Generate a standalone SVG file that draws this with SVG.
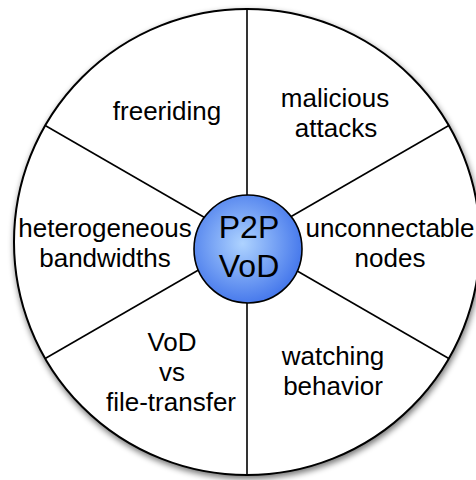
<svg xmlns="http://www.w3.org/2000/svg" width="476" height="480" viewBox="0 0 476 480">
  <defs>
    <filter id="shadow" x="-10%" y="-10%" width="120%" height="125%">
      <feGaussianBlur in="SourceAlpha" stdDeviation="3"/>
      <feOffset dx="1" dy="3" result="blur"/>
      <feComponentTransfer><feFuncA type="linear" slope="0.55"/></feComponentTransfer>
      <feMerge><feMergeNode/><feMergeNode in="SourceGraphic"/></feMerge>
    </filter>
    <radialGradient id="hub" cx="0.45" cy="0.45" r="0.6">
      <stop offset="0" stop-color="#aed3ff"/>
      <stop offset="1" stop-color="#3f72ea"/>
    </radialGradient>
  </defs>
  <style>
    .label { font-family: "Liberation Sans", Arial, Helvetica, sans-serif; font-size: 26px; fill: #000; text-anchor: middle; }
    .hub-label { font-family: "Liberation Sans", Arial, Helvetica, sans-serif; font-size: 32px; fill: #000; text-anchor: middle; }
    .spoke { stroke: #000; stroke-width: 1.6; }
  </style>

  <!-- outer wheel -->
  <g id="wheel">
    <circle cx="247" cy="242" r="233" fill="#fff" stroke="#000" stroke-width="2" filter="url(#shadow)"/>
  </g>

  <!-- spokes dividing the wheel into six sectors -->
  <g id="connectors">
    <line class="spoke" x1="247" y1="242" x2="247" y2="9"/>
    <line class="spoke" x1="247" y1="242" x2="247" y2="475"/>
    <line class="spoke" x1="247" y1="242" x2="45.2" y2="125.5"/>
    <line class="spoke" x1="247" y1="242" x2="448.8" y2="125.5"/>
    <line class="spoke" x1="247" y1="242" x2="45.2" y2="358.5"/>
    <line class="spoke" x1="247" y1="242" x2="448.8" y2="358.5"/>
  </g>

  <g id="freeriding">
    <text class="label" x="167" y="120">freeriding</text>
  </g>
  <g id="malicious-attacks">
    <text class="label" x="335" y="107">malicious</text>
    <text class="label" x="336" y="137">attacks</text>
  </g>
  <g id="heterogeneous-bandwidths">
    <text class="label" x="105" y="237">heterogeneous</text>
    <text class="label" x="105" y="267">bandwidths</text>
  </g>
  <g id="unconnectable-nodes">
    <text class="label" x="390" y="237">unconnectable</text>
    <text class="label" x="390" y="267">nodes</text>
  </g>
  <g id="vod-vs-file-transfer">
    <text class="label" x="172" y="351">VoD</text>
    <text class="label" x="172" y="381">vs</text>
    <text class="label" x="171" y="411">file-transfer</text>
  </g>
  <g id="watching-behavior">
    <text class="label" x="333" y="365">watching</text>
    <text class="label" x="333" y="395">behavior</text>
  </g>

  <!-- central hub -->
  <g id="p2p-vod">
    <circle cx="248" cy="249" r="54" fill="url(#hub)" stroke="#000" stroke-width="1.6"/>
    <text class="hub-label" x="249" y="238">P2P</text>
    <text class="hub-label" x="249" y="277">VoD</text>
  </g>
</svg>
